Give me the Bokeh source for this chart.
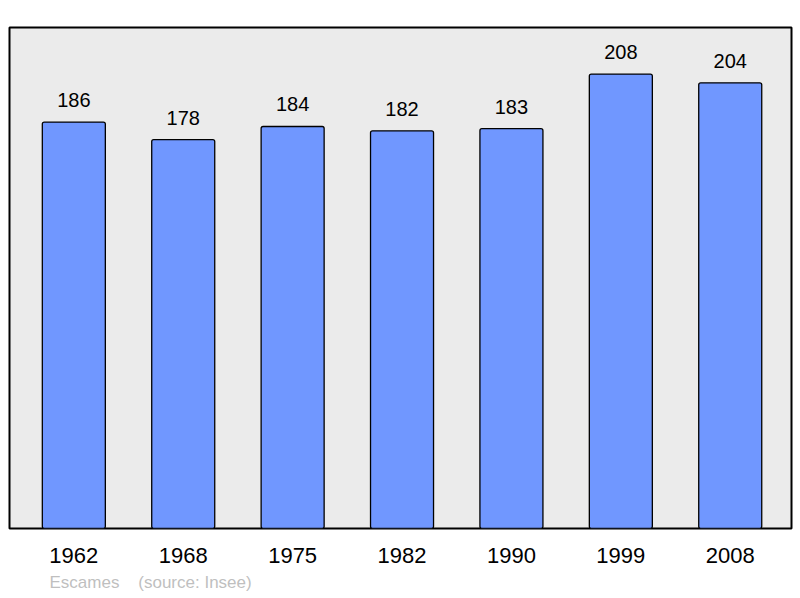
from bokeh.plotting import figure
from bokeh.models import ColumnDataSource, Range1d, FixedTicker, Title
from bokeh.core.properties import value
from bokeh.embed import file_html
from bokeh.resources import INLINE

years = ["1962", "1968", "1975", "1982", "1990", "1999", "2008"]
population = [186, 178, 184, 182, 183, 208, 204]
commune = "Escames"
source_note = "(source: Insee)"

idx = list(range(len(years)))
src = ColumnDataSource(dict(x=idx, top=population, label=[str(v) for v in population]))

p = figure(width=800, height=598, frame_width=782, frame_height=501,
           output_backend="svg", toolbar_location=None,
           x_range=Range1d(-0.588, 6.56), y_range=Range1d(0, 229.3),
           min_border_left=9, min_border_right=9, min_border_top=27, min_border_bottom=70)
p.background_fill_color = "#ebebeb"
p.border_fill_color = "white"
p.outline_line_color = "black"
p.outline_line_width = 2
p.xgrid.visible = False
p.ygrid.visible = False
p.yaxis.visible = False

p.vbar(x="x", top="top", width=0.576, bottom=0, source=src,
       fill_color="#7097ff", line_color="black", line_width=1.3, border_radius=2)
p.text(x="x", y="top", text="label", source=src, y_offset=-22,
       text_align="center", text_baseline="middle", text_font_size="20px",
       text_font=value("Liberation Sans"), text_color="black")

ax = p.xaxis[0]
ax.ticker = FixedTicker(ticks=idx)
ax.major_label_overrides = {i: y for i, y in zip(idx, years)}
ax.axis_line_color = None
ax.major_tick_line_color = None
ax.minor_tick_line_color = None
ax.major_tick_out = 0
ax.major_tick_in = 0
ax.major_label_standoff = 19
ax.major_label_text_font_size = "22px"
ax.major_label_text_font = "Liberation Sans"
ax.major_label_text_color = "black"

note = Title(text=commune + "\u00a0\u00a0\u00a0\u00a0" + source_note, align="left",
             offset=40, text_font_size="17px", text_font="Liberation Sans",
             text_color="#bfbfbf", text_font_style="normal", standoff=11)
p.add_layout(note, "below")

open("out.html", "w").write(file_html(p, INLINE))
